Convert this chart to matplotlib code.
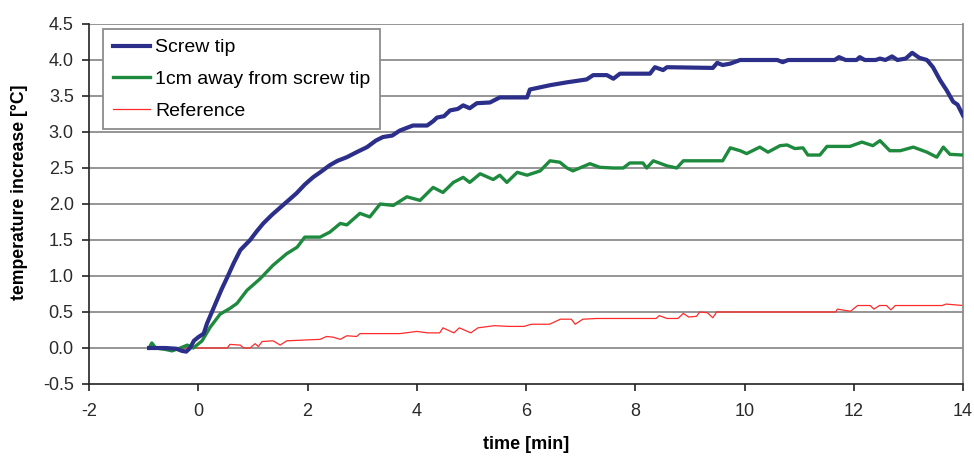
import matplotlib
matplotlib.use("Agg")
import matplotlib.pyplot as plt

plt.rcParams["font.family"] = ["Liberation Sans", "DejaVu Sans"]
plt.rcParams["axes.unicode_minus"] = False

# Screw tip
tip_x = [-0.9, -0.6, -0.4, -0.3, -0.22, -0.15, -0.08, 0.0, 0.1, 0.16, 0.25, 0.34,
         0.43, 0.53, 0.65, 0.77, 0.95, 1.07, 1.19, 1.35, 1.5, 1.65, 1.8, 1.95, 2.1,
         2.25, 2.41, 2.55, 2.72, 2.9, 3.09, 3.25, 3.38, 3.55, 3.69, 3.93, 4.19, 4.3,
         4.37, 4.5, 4.61, 4.75, 4.85, 4.97, 5.1, 5.34, 5.52, 6.02, 6.07, 6.44, 6.75,
         7.11, 7.23, 7.48, 7.6, 7.72, 8.27, 8.36, 8.51, 8.58, 9.42, 9.5, 9.6, 9.74,
         9.92, 10.6, 10.7, 10.8, 11.65, 11.73, 11.85, 12.05, 12.11, 12.2, 12.4, 12.48,
         12.58, 12.7, 12.8, 12.95, 13.07, 13.2, 13.34, 13.45, 13.58, 13.7, 13.82,
         13.9, 14.0]
tip_y = [0.0, 0.0, -0.01, -0.04, -0.05, 0.0, 0.1, 0.15, 0.2, 0.34, 0.5, 0.66,
         0.82, 0.98, 1.18, 1.36, 1.5, 1.62, 1.73, 1.85, 1.95, 2.05, 2.15, 2.27, 2.37,
         2.45, 2.54, 2.6, 2.65, 2.72, 2.79, 2.88, 2.93, 2.95, 3.02, 3.09, 3.09, 3.15,
         3.2, 3.22, 3.3, 3.32, 3.37, 3.33, 3.4, 3.41, 3.48, 3.48, 3.59, 3.65, 3.69,
         3.73, 3.79, 3.79, 3.74, 3.81, 3.81, 3.9, 3.86, 3.9, 3.89, 3.96, 3.93, 3.95,
         4.0, 4.0, 3.97, 4.0, 4.0, 4.04, 4.0, 4.0, 4.04, 4.0, 4.0, 4.02,
         4.0, 4.05, 4.0, 4.02, 4.1, 4.03, 4.0, 3.9, 3.72, 3.58, 3.42,
         3.38, 3.23]

# 1cm away from screw tip
away_x = [-0.9, -0.85, -0.78, -0.6, -0.48, -0.33, -0.2, -0.09, 0.07, 0.22, 0.4,
          0.58, 0.71, 0.89, 1.13, 1.37, 1.62, 1.81, 1.95, 2.23, 2.41, 2.6, 2.72,
          2.96, 3.14, 3.33, 3.57, 3.82, 4.06, 4.3, 4.48, 4.67, 4.85, 4.97, 5.16,
          5.4, 5.52, 5.65, 5.84, 6.02, 6.26, 6.44, 6.62, 6.75, 6.86, 7.17, 7.35,
          7.6, 7.78, 7.9, 8.14, 8.21, 8.33, 8.58, 8.76, 8.88, 9.6, 9.74, 9.92,
          10.04, 10.28, 10.43, 10.65, 10.78, 10.92, 11.07, 11.16, 11.38, 11.51,
          11.93, 12.15, 12.35, 12.48, 12.66, 12.85, 13.09, 13.34, 13.52, 13.64,
          13.76, 14.0]
away_y = [0.0, 0.07, 0.0, -0.02, -0.04, 0.0, 0.04, 0.0, 0.1, 0.29, 0.47,
          0.55, 0.62, 0.8, 0.96, 1.15, 1.31, 1.4, 1.54, 1.54, 1.61, 1.73, 1.71,
          1.87, 1.82, 2.0, 1.98, 2.1, 2.05, 2.23, 2.16, 2.3, 2.37, 2.3, 2.42,
          2.34, 2.4, 2.3, 2.44, 2.4, 2.46, 2.6, 2.58, 2.5, 2.46, 2.56, 2.51,
          2.5, 2.5, 2.57, 2.57, 2.5, 2.6, 2.53, 2.5, 2.6, 2.6, 2.78, 2.74,
          2.7, 2.79, 2.72, 2.81, 2.82, 2.77, 2.78, 2.68, 2.68, 2.8,
          2.8, 2.86, 2.81, 2.88, 2.74, 2.74, 2.79, 2.72, 2.65, 2.79,
          2.69, 2.68]

# Reference
ref_x = [-0.9, 0.53, 0.58, 0.77, 0.83, 0.95, 1.04, 1.1, 1.17, 1.37, 1.5, 1.62,
         2.23, 2.35, 2.47, 2.6, 2.72, 2.9, 2.96, 3.69, 4.0, 4.2, 4.42, 4.48, 4.68,
         4.78, 4.99, 5.12, 5.42, 5.69, 5.96, 6.1, 6.43, 6.63, 6.83, 6.9, 7.04, 7.3,
         8.38, 8.44, 8.58, 8.78, 8.88, 8.98, 9.12, 9.18, 9.32, 9.42, 9.49, 11.67,
         11.7, 11.94, 12.07, 12.3, 12.37, 12.47, 12.6, 12.68, 12.76, 13.62, 13.69,
         14.0]
ref_y = [0.0, 0.0, 0.05, 0.04, 0.0, 0.0, 0.06, 0.02, 0.09, 0.1, 0.04, 0.1,
         0.12, 0.16, 0.15, 0.12, 0.17, 0.16, 0.2, 0.2, 0.23, 0.21, 0.21, 0.28, 0.21,
         0.28, 0.21, 0.28, 0.31, 0.3, 0.3, 0.33, 0.33, 0.4, 0.4, 0.33, 0.4, 0.41,
         0.41, 0.45, 0.41, 0.41, 0.48, 0.43, 0.44, 0.5, 0.49, 0.42, 0.5, 0.5,
         0.54, 0.51, 0.59, 0.59, 0.54, 0.59, 0.59, 0.53, 0.59, 0.59, 0.61,
         0.59]

x_ticks = [-2, 0, 2, 4, 6, 8, 10, 12, 14]
y_ticks = [-0.5, 0.0, 0.5, 1.0, 1.5, 2.0, 2.5, 3.0, 3.5, 4.0, 4.5]

fig = plt.figure(figsize=(9.74, 4.57), dpi=100)
ax = fig.add_axes([89 / 974, 1 - 384 / 457, 874 / 974, 360 / 457])

for y in y_ticks[1:]:
    ax.axhline(y, color="#8c8c8c", lw=1.3, zorder=1)

ax.plot(tip_x, tip_y, color="#2b2f8a", lw=3.0, label="Screw tip", zorder=4)
ax.plot(away_x, away_y, color="#1e8a3e", lw=2.4, label="1cm away from screw tip", zorder=3)
ax.plot(ref_x, ref_y, color="#ff2a2a", lw=0.9, label="Reference", zorder=2)

ax.set_xlim(-2, 14)
ax.set_ylim(-0.5, 4.5)
ax.set_xticks(x_ticks)
ax.set_yticks(y_ticks)
ax.set_yticklabels([f"{v:.1f}" for v in y_ticks])
ax.tick_params(labelsize=13, length=5, width=1.2, color="#222222", labelcolor="#2a2a2a")
ax.tick_params(axis="x", pad=9)
ax.tick_params(axis="y", pad=6)

ax.spines["left"].set_color("#222222")
ax.spines["bottom"].set_color("#222222")
ax.spines["left"].set_linewidth(1.2)
ax.spines["bottom"].set_linewidth(1.2)
ax.spines["top"].set_visible(False)
ax.spines["right"].set_color("#8c8c8c")
ax.spines["right"].set_linewidth(1.3)

ax.set_xlabel("time [min]", fontsize=13, fontweight="bold", va="center")
ax.xaxis.set_label_coords(0.5, -0.167)
ax.set_ylabel("temperature increase [°C]", fontsize=12.7, fontweight="bold", va="center")
ax.yaxis.set_label_coords(-0.079, 0.533)

leg = ax.legend(loc="upper left", bbox_to_anchor=(0.016, 0.986), borderaxespad=0,
                fontsize=14, frameon=True, fancybox=False, handlelength=1.9,
                handletextpad=0.3, labelspacing=0.72, borderpad=0.5)
leg.get_frame().set_edgecolor("#8c8c8c")
leg.get_frame().set_linewidth(1.3)
leg.get_frame().set_alpha(1)

fig.savefig("out.png", dpi=100)
